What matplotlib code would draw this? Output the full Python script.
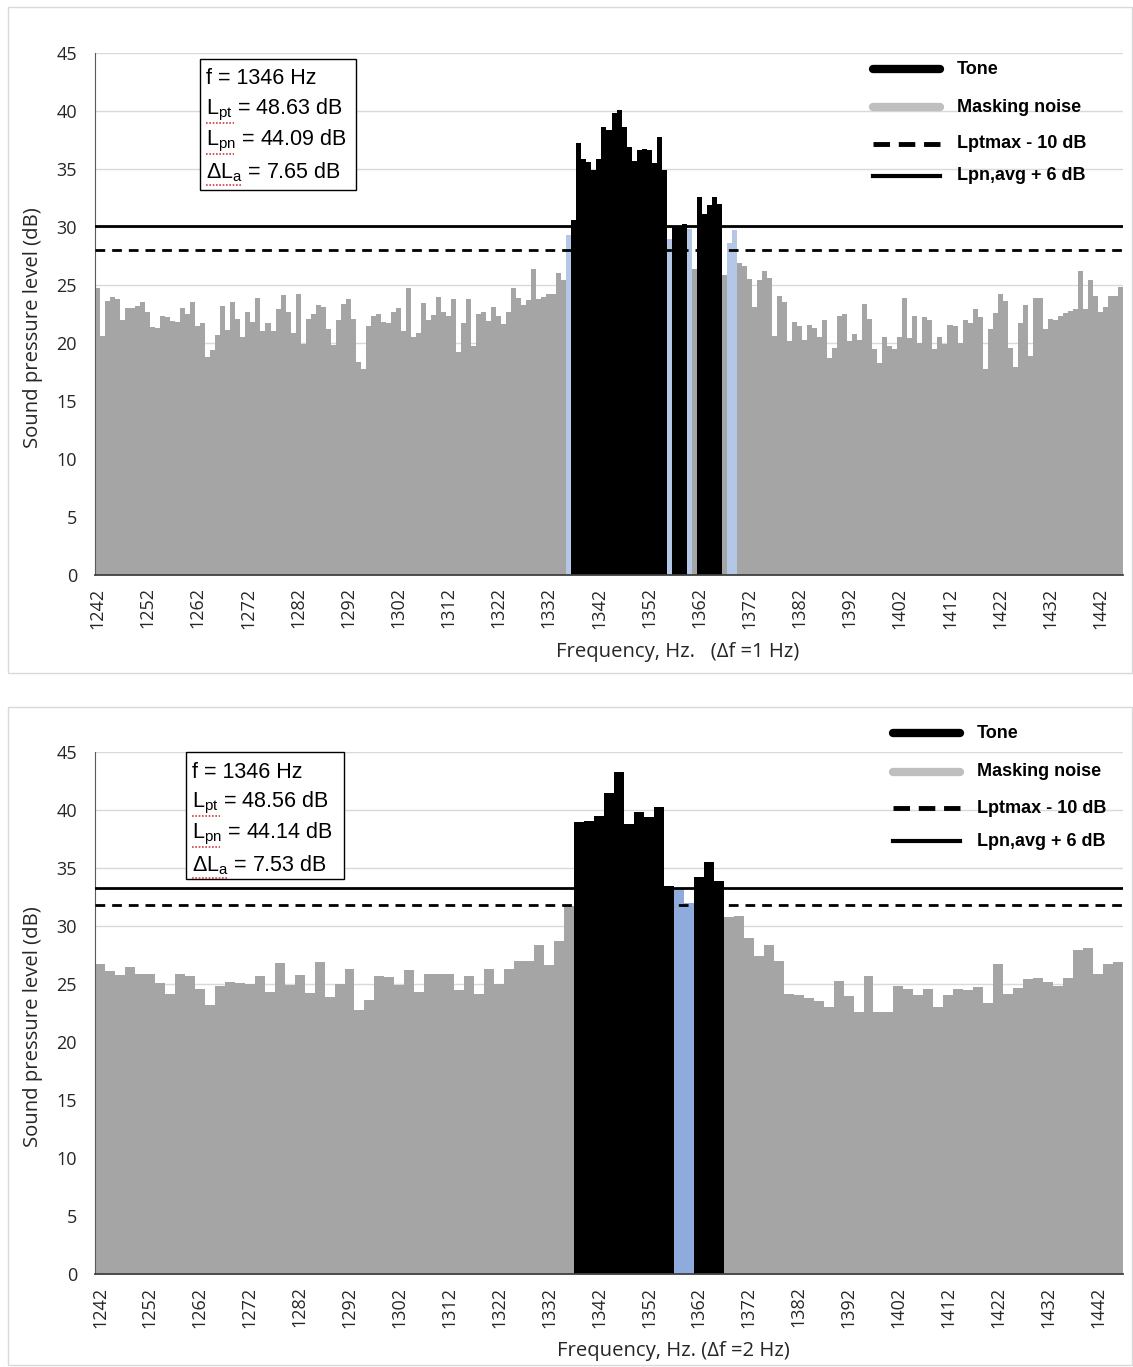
import matplotlib
matplotlib.use('Agg')
import matplotlib.pyplot as plt
from matplotlib.lines import Line2D
from matplotlib.patches import Rectangle
from matplotlib import font_manager
import numpy as np

# ---- data ----
# top: 1 Hz resolution, starts at 1242 Hz
top_start = 1242
top_levels = [
    24.75, 20.6, 23.6, 24.0, 23.8, 22.0, 23.05, 23.05, 23.2, 23.5,
    22.7, 21.4, 21.3, 22.3, 22.2, 21.9, 21.8, 23.05, 22.5, 23.5,
    21.5, 21.75, 18.8, 19.4, 20.7, 23.2, 21.1, 23.5, 22.1, 20.5,
    22.65, 21.8, 23.9, 21.0, 21.7, 21.0, 22.9, 24.15, 22.7, 20.9,
    24.2, 19.9, 22.1, 22.5, 23.3, 23.1, 21.2, 19.8, 22.0, 23.4,
    23.8, 22.1, 18.4, 17.8, 21.5, 22.3, 22.5, 21.8, 21.75, 22.7,
    23.0, 21.0, 24.75, 20.5, 20.9, 23.45, 22.0, 22.4, 24.0, 22.7,
    22.3, 23.8, 19.2, 21.7, 23.8, 19.7, 22.5, 22.7, 21.9, 23.1,
    22.3, 21.6, 22.7, 24.75, 23.9, 23.3, 23.7, 26.35, 23.8, 24.0,
    24.2, 24.2, 26.0, 25.4, 29.3, 30.6, 37.2, 35.9, 35.6, 34.9,
    35.9, 38.6, 38.4, 39.8, 40.1, 38.6, 36.9, 35.7, 36.6, 36.7,
    36.6, 35.5, 37.8, 34.9, 29.0, 30.1, 30.1, 30.3, 29.8, 26.4,
    32.6, 31.1, 31.9, 32.6, 32.0, 25.9, 28.6, 29.7, 26.9, 26.6,
    25.5, 23.1, 25.4, 26.2, 25.6, 20.6, 24.05, 23.5, 20.2, 21.8,
    21.5, 20.3, 21.55, 21.3, 20.5, 22.0, 18.7, 19.6, 22.3, 22.5,
    20.2, 20.8, 20.3, 23.4, 22.1, 19.5, 18.3, 20.5, 19.7, 19.45,
    20.55, 23.85, 20.4, 22.3, 19.97, 22.2, 22.0, 19.5, 20.5, 19.9,
    21.55, 21.5, 19.97, 22.0, 21.75, 22.9, 22.2, 17.8, 21.2, 22.55,
    24.2, 23.6, 19.6, 17.9, 21.7, 23.3, 18.9, 23.85, 23.85, 21.2,
    22.1, 22.0, 22.3, 22.55, 22.8, 22.9, 26.2, 22.95, 25.4, 24.05,
    22.7, 23.1, 24.05, 24.05, 24.8,
]
top_tone = list(range(1337, 1356)) + [1357, 1358, 1359] + list(range(1362, 1367))
top_blue = [1336, 1356, 1360, 1368, 1369]
top_solid, top_dashed = 30.1, 28.0
top_box = ['f = 1346 Hz', 'L$_{\\mathrm{pt}}$ = 48.63 dB',
           'L$_{\\mathrm{pn}}$ = 44.09 dB', '$\\Delta$L$_{\\mathrm{a}}$ = 7.65 dB']
top_xlabel = 'Frequency, Hz.   (\u0394f =1 Hz)'

# bottom: 2 Hz resolution, starts at 1242 Hz
bot_start = 1242
bot_levels = [
    26.7, 26.15, 25.8, 26.5, 25.86, 25.86, 25.1, 24.1, 25.9, 25.7,
    24.6, 23.2, 24.8, 25.2, 25.1, 25.0, 25.66, 24.3, 26.8, 24.9,
    25.8, 24.2, 26.9, 23.9, 24.97, 26.3, 22.76, 23.6, 25.66, 25.6,
    24.9, 26.2, 24.3, 25.9, 25.9, 25.9, 24.5, 25.66, 24.1, 26.3,
    25.0, 26.3, 27.0, 26.95, 28.4, 26.6, 28.7, 31.7,
    39.0, 39.05, 39.5, 41.5, 43.25, 38.8, 39.8, 39.4, 40.3, 33.45,
    33.2, 32.0, 34.2, 35.5, 33.9,
    30.8, 30.9, 29.0, 27.4, 28.4, 27.0, 24.15, 24.05, 23.8, 23.5,
    23.0, 25.3, 24.0, 22.6, 25.7, 22.6, 22.6, 24.8, 24.6, 24.05,
    24.6, 23.0, 24.05, 24.6, 24.5, 24.7, 23.35, 26.7, 24.1, 24.65,
    25.4, 25.5, 25.2, 24.85, 25.5, 27.9, 28.1, 25.9, 26.7, 26.9,
]
bot_tone = list(range(1338, 1357, 2)) + [1362, 1364, 1366]
bot_blue = [1358, 1360]
bot_solid, bot_dashed = 33.25, 31.8
bot_box = ['f = 1346 Hz', 'L$_{\\mathrm{pt}}$ = 48.56 dB',
           'L$_{\\mathrm{pn}}$ = 44.14 dB', '$\\Delta$L$_{\\mathrm{a}}$ = 7.53 dB']
bot_xlabel = 'Frequency, Hz. (\u0394f =2 Hz)'

legend_labels = ['Tone', 'Masking noise', 'Lptmax - 10 dB', 'Lpn,avg + 6 dB']

W, H = 1133, 1367
plt.rcParams['font.family'] = ['Open Sans', 'DejaVu Sans']
plt.rcParams['mathtext.fontset'] = 'custom'
plt.rcParams['mathtext.rm'] = 'Liberation Sans'
plt.rcParams['mathtext.it'] = 'Liberation Sans'

names = {f.name for f in font_manager.fontManager.ttflist}
leg_font = 'Liberation Sans Narrow' if 'Liberation Sans Narrow' in names else 'Liberation Sans'


def fx(x):
    return x / W


def fy(y):
    return 1 - y / H


fig = plt.figure(figsize=(W / 100, H / 100), dpi=100)


def panel(top_px, levels, start, step, tone, blue, solid, dashed, box, box_px,
          leg_px, xlabel, xlabel_xy, frame, blue_col):
    ax = fig.add_axes([fx(95), fy(top_px + 522), fx(1028), 522 / H])
    freqs = start + step * np.arange(len(levels))
    cols = []
    for f in freqs:
        if f in tone:
            cols.append('black')
        elif f in blue:
            cols.append(blue_col)
        else:
            cols.append('#A5A5A5')
    ax.bar(freqs, levels, width=step, color=cols, linewidth=0, zorder=2)
    ax.axhline(solid, color='black', lw=2, zorder=3)
    ax.axhline(dashed, color='black', lw=2, linestyle=(0, (3.5, 2.5)), zorder=3)
    ax.set_xlim(start - step / 2, freqs[-1] + step / 2)
    ax.set_ylim(0, 45)
    ax.set_yticks(np.arange(0, 46, 5))
    ax.set_xticks(np.arange(1242, 1443, 10))
    ax.tick_params(axis='x', rotation=90, length=0, pad=9, labelsize=13, labelcolor='#262626')
    ax.tick_params(axis='y', length=0, pad=13, labelsize=13, labelcolor='#262626')
    ax.grid(axis='y', color='#D9D9D9', lw=1, zorder=0)
    ax.set_axisbelow(True)
    for s in ['top', 'right']:
        ax.spines[s].set_visible(False)
    ax.spines['left'].set_color('#595959')
    ax.spines['bottom'].set_color('#404040')
    ax.spines['bottom'].set_linewidth(1.3)

    # chart frame
    fig.add_artist(Rectangle((fx(frame[0]), fy(frame[3])), fx(frame[2] - frame[0]),
                             (frame[3] - frame[1]) / H, fill=False, ec='#D9D9D9', lw=1))
    fig.text(fx(33), fy(top_px + 275), 'Sound pressure level (dB)', rotation=90,
             ha='center', va='center', fontsize=14.6, color='#262626')
    fig.text(fx(xlabel_xy[0]), fy(xlabel_xy[1]), xlabel, ha='center', va='center',
             fontsize=14.6, color='#262626')

    # parameter box
    bx0, by0, bx1, by1 = box_px
    fig.add_artist(Rectangle((fx(bx0), fy(by1)), fx(bx1 - bx0), (by1 - by0) / H,
                             fc='white', ec='black', lw=1, zorder=5))
    for i, line in enumerate(box):
        yc = by0 + 20 + 31 * i
        fig.text(fx(bx0 + 6), fy(yc), line, ha='left', va='center',
                 fontsize=15.5, family='Liberation Sans', zorder=6)
        if i > 0:
            # spell-check squiggle under the symbol
            x_end = bx0 + (34 if i < 3 else 42)
            fig.add_artist(Line2D([fx(bx0 + 6), fx(x_end)], [fy(yc + 13), fy(yc + 13)],
                                  color='#D04040', lw=1.2, linestyle=(0, (1, 1)), zorder=7))

    # legend
    lx0, lx1, ys = leg_px
    styles = [dict(color='black', lw=6, solid_capstyle='round'),
              dict(color='#BFBFBF', lw=6, solid_capstyle='round'),
              dict(color='black', lw=3.5, linestyle=(0, (3.4, 1.8))),
              dict(color='black', lw=3)]
    for y, lab, st in zip(ys, legend_labels, styles):
        fig.add_artist(Line2D([fx(lx0), fx(lx1)], [fy(y), fy(y)], **st))
        fig.text(fx(lx1 + 17), fy(y), lab, ha='left', va='center', fontsize=13,
                 family=leg_font, weight='bold')
    return ax


panel(53, top_levels, top_start, 1, top_tone, top_blue, top_solid, top_dashed,
      top_box, (200, 59, 356, 190), (873, 940, [69, 107, 144, 176]),
      top_xlabel, (678, 652), (8, 7, 1132, 673), '#B4C7E7')
panel(752, bot_levels, bot_start, 2, bot_tone, bot_blue, bot_solid, bot_dashed,
      bot_box, (186, 752, 344, 879), (893, 960, [733, 772, 808, 841]),
      bot_xlabel, (673, 1351), (8, 707, 1132, 1365), '#8FAADC')

fig.savefig('out.png', dpi=100)
